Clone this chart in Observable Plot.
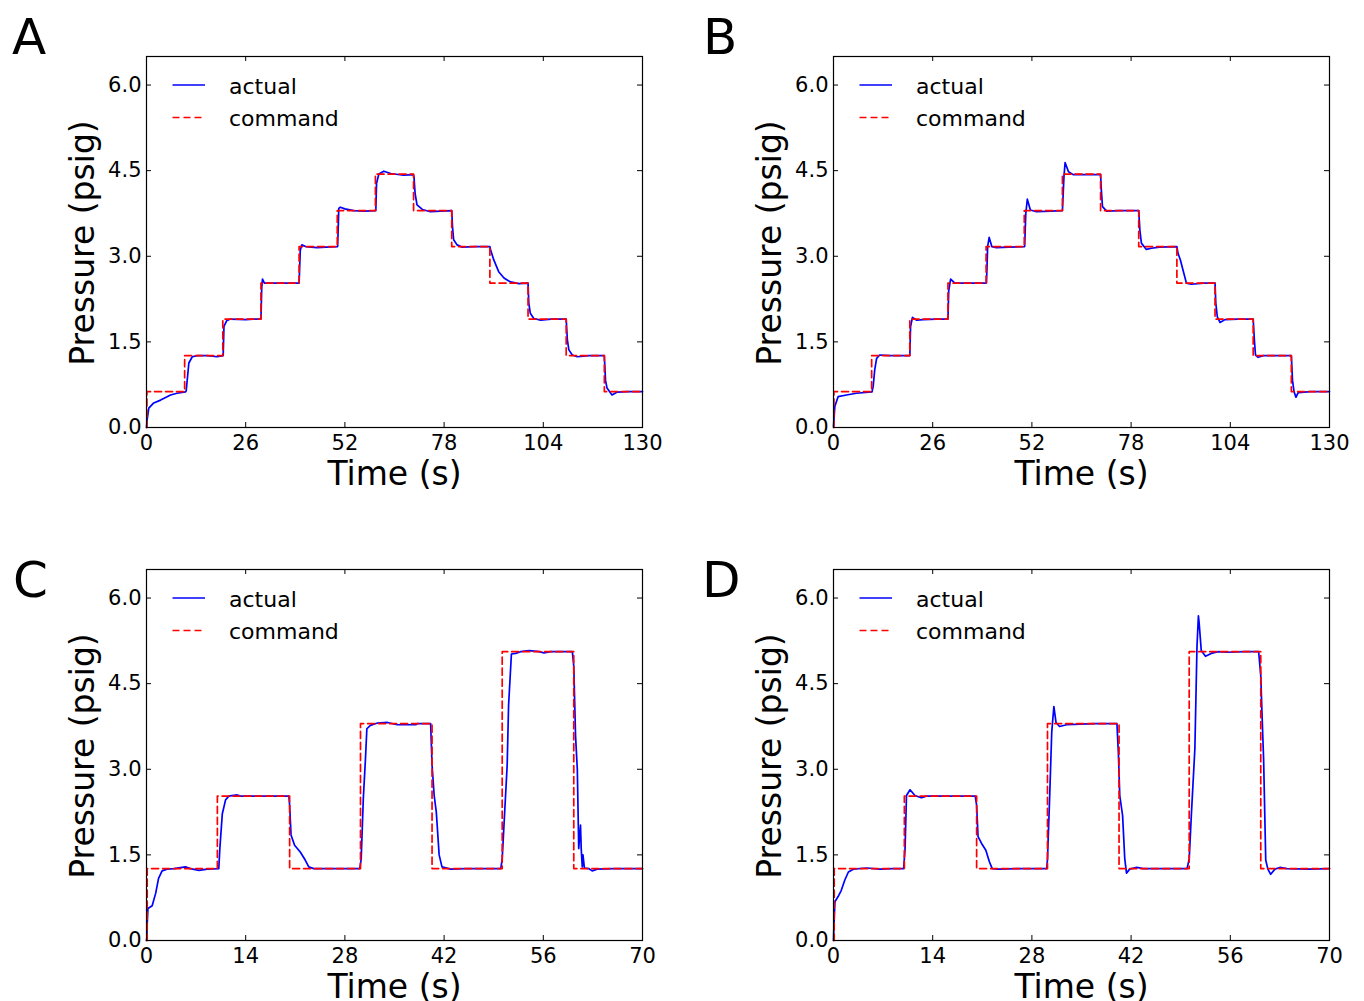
<!DOCTYPE html>
<html>
<head>
<meta charset="utf-8">
<script src="https://cdn.jsdelivr.net/npm/d3@7"></script>
<script src="https://cdn.jsdelivr.net/npm/@observablehq/plot@0.6"></script>
<style>
  html, body { margin: 0; padding: 0; background: #fff; }
  #fig { position: relative; width: 1364px; height: 1001px; overflow: hidden; background: #fff; font-family: "DejaVu Sans", sans-serif; }
  .panel { position: absolute; width: 682px; height: 500px; }
  .panel svg { display: block; max-width: none !important; width: 682px !important; height: 500px !important; }
  #overlay { position: absolute; left: 0; top: 0; pointer-events: none; }
</style>
</head>
<body>
<div id="fig"></div>
<script>
// ---------- tick values ----------
const yTicks = [0, 1.5, 3.0, 4.5, 6.0];
const xTicksAB = [0, 26, 52, 78, 104, 130];
const xTicksCD = [0, 14, 28, 42, 56, 70];

// ---------- command signals ----------
const cmdAB_t = [0, 0.1, 10, 20, 30, 40, 50, 60, 70, 80, 90, 100, 110, 120, 130];
const cmdAB_v = [0, 0.63, 1.26, 1.90, 2.53, 3.17, 3.80, 4.44, 3.80, 3.17, 2.53, 1.90, 1.26, 0.63, 0.63];
const cmdCD_t = [0, 0.1, 10.0, 20.2, 30.2, 40.3, 50.2, 60.3, 70];
const cmdCD_v = [0, 1.26, 2.53, 1.26, 3.80, 1.26, 5.06, 1.26, 1.26];

// ---------- panel A actual ----------
const actA_t = [0, 0.15, 0.6, 1.9, 3.7, 6.3, 8.0, 10.2, 10.4, 11.1, 12.0, 13.3, 16, 18.5, 20.1,
  20.3, 21.0, 22.0, 26, 28, 30.0, 30.2, 30.4, 30.9, 35, 40.0, 40.3, 40.7, 41.7, 44.7, 47, 50.1,
  50.4, 50.8, 52, 54.3, 57, 60.1, 60.3, 60.9, 62.2, 64, 67.4, 69.9, 70.1, 70.4, 70.9, 72.3, 74.4, 77, 80.0,
  80.2, 80.5, 81.4, 82.7, 86, 90.0, 90.2, 91, 92.3, 93.7, 95.4, 97.6, 100.0, 100.2, 100.6, 101.5, 103.3, 106, 110.0,
  110.3, 110.7, 111.6, 112.9, 116, 120.0, 120.3, 120.7, 122, 123.4, 126, 130];
const actA_v = [0, 0.13, 0.34, 0.43, 0.48, 0.57, 0.60, 0.625, 0.64, 1.13, 1.24, 1.26, 1.26, 1.24, 1.26,
  1.77, 1.87, 1.90, 1.89, 1.90, 1.90, 2.45, 2.60, 2.53, 2.53, 2.53, 3.10, 3.20, 3.17, 3.15, 3.16, 3.17,
  3.84, 3.86, 3.83, 3.80, 3.79, 3.80, 4.28, 4.44, 4.49, 4.45, 4.42, 4.43, 4.40, 4.10, 3.90, 3.82, 3.78, 3.79, 3.80,
  3.52, 3.29, 3.20, 3.16, 3.17, 3.17, 3.11, 2.94, 2.73, 2.62, 2.55, 2.52, 2.53, 2.18, 2.00, 1.91, 1.88, 1.90, 1.90,
  1.54, 1.36, 1.27, 1.24, 1.26, 1.26, 0.83, 0.69, 0.57, 0.62, 0.63, 0.63];

// ---------- panel B actual ----------
const actB_t = [0, 0.35, 1.2, 3.4, 6, 10.1, 10.4, 10.8, 11.3, 12.1, 15, 20.0,
  20.2, 20.7, 21.8, 23.5, 27, 30.0, 30.2, 30.7, 31.8, 35, 40.1, 40.4, 40.8, 41.5, 42.7, 46, 50.1,
  50.4, 50.8, 51.6, 53.2, 57, 60.0, 60.4, 60.7, 61.6, 62.8, 66, 70.0, 70.2, 70.5, 71.6, 75, 80.0,
  80.3, 80.7, 82.0, 83.3, 85.5, 90.0, 90.3, 90.9, 91.6, 92.5, 93.8, 97, 100.0, 100.2, 100.6, 101.3, 102.6, 106, 110.0,
  110.3, 110.6, 111.3, 112.6, 116, 120.0, 120.3, 120.7, 121.2, 121.8, 125, 130];
const actB_v = [0.02, 0.37, 0.54, 0.57, 0.60, 0.625, 0.72, 1.01, 1.21, 1.27, 1.26, 1.26,
  1.77, 1.93, 1.88, 1.89, 1.90, 1.90, 2.40, 2.60, 2.53, 2.53, 2.53, 3.17, 3.33, 3.17, 3.15, 3.16, 3.17,
  3.75, 4.00, 3.81, 3.78, 3.79, 3.80, 4.39, 4.64, 4.48, 4.43, 4.43, 4.43, 4.16, 3.87, 3.79, 3.80, 3.80,
  3.46, 3.23, 3.12, 3.14, 3.16, 3.17, 3.05, 2.94, 2.76, 2.53, 2.51, 2.53, 2.53, 2.18, 1.94, 1.84, 1.89, 1.90, 1.90,
  1.54, 1.27, 1.23, 1.26, 1.26, 1.26, 0.83, 0.63, 0.53, 0.61, 0.63, 0.63];

// ---------- panel C actual ----------
const actC_t = [0, 0.05, 0.1, 0.2, 0.8, 1.3, 1.7, 2.2, 2.9, 3.9, 5.5, 6.2, 7.4, 8.6, 10.2,
  10.35, 10.7, 11.15, 11.6, 12.8, 13.3, 16, 20.1, 20.2, 20.4, 20.9, 21.7, 22.4, 22.9, 23.6, 27, 30.1,
  30.3, 30.6, 30.9, 31.1, 31.6, 32.6, 34.0, 35.4, 38.0, 38.2, 40.1, 40.3, 40.6, 40.9, 41.3, 41.7, 42.9, 45, 50.0,
  50.2, 50.4, 50.9, 51.1, 51.5, 52.1, 52.8, 54.0, 55.4, 56.1, 57.0, 60.1, 60.3, 60.55, 60.8, 61.0, 61.25, 61.35, 61.5, 61.6, 61.8,
  62.4, 62.9, 63.6, 66, 70];
const actC_v = [0, 0.05, 0.30, 0.56, 0.61, 0.83, 1.09, 1.22, 1.25, 1.26, 1.29, 1.26, 1.23, 1.25, 1.26,
  1.61, 2.22, 2.46, 2.53, 2.55, 2.53, 2.53, 2.53, 2.37, 1.85, 1.67, 1.55, 1.41, 1.29, 1.26, 1.26, 1.26,
  1.43, 2.49, 3.18, 3.71, 3.77, 3.81, 3.82, 3.78, 3.78, 3.80, 3.80, 3.07, 2.54, 2.25, 1.50, 1.29, 1.25, 1.26, 1.26,
  1.43, 1.90, 3.07, 4.12, 5.02, 5.03, 5.06, 5.08, 5.06, 5.04, 5.06, 5.06, 4.81, 3.59, 3.00, 1.61, 2.02, 1.61, 1.29, 1.50, 1.27,
  1.26, 1.22, 1.25, 1.26, 1.26];

// ---------- panel D actual ----------
const actD_t = [0, 0.05, 0.2, 0.65, 1.1, 1.6, 2.1, 2.8, 4.7, 6.5, 8.4, 9.9,
  10.1, 10.3, 10.8, 11.5, 12.4, 13.1, 16, 20.0, 20.2, 20.4, 20.9, 21.5, 22.0, 22.4, 23.2, 26, 30.1,
  30.2, 30.5, 30.8, 31.1, 31.4, 31.9, 32.9, 34.8, 37, 40.0, 40.2, 40.4, 40.8, 41.1, 41.35, 41.8, 42.8, 43.7, 49.9,
  50.2, 50.5, 51.0, 51.3, 51.5, 51.6, 51.9, 52.5, 53.3, 54.3, 55.5, 58, 60.0, 60.3, 60.5, 60.7, 61.0, 61.3, 61.7,
  62.3, 63.0, 64.0, 67, 70];
const actD_v = [0, 0.22, 0.68, 0.77, 0.88, 1.06, 1.20, 1.25, 1.27, 1.25, 1.26, 1.26,
  1.61, 2.54, 2.64, 2.54, 2.50, 2.53, 2.53, 2.53, 2.37, 1.82, 1.70, 1.58, 1.38, 1.26, 1.25, 1.26, 1.26,
  1.43, 2.49, 3.65, 4.10, 3.82, 3.75, 3.78, 3.79, 3.80, 3.80, 3.30, 2.54, 2.19, 1.44, 1.18, 1.25, 1.28, 1.26, 1.26,
  1.43, 2.19, 3.36, 5.16, 5.69, 5.57, 5.08, 4.98, 5.03, 5.06, 5.05, 5.06, 5.06, 4.64, 3.88, 3.18, 1.41, 1.25, 1.16,
  1.25, 1.28, 1.26, 1.25, 1.26];

// ---------- labels ----------
const panelLetters = ["A", "B", "C", "D"];
const legendLabels = ["actual", "command"];
const xLabel = "Time (s)";
const yLabel = "Pressure (psig)";

const W = 682, H = 500, mL = 146, mR = 40, mT = 56, mB = 73;
const fw = W - mL - mR, fh = H - mT - mB;
const BLUE = "#0000ff", RED = "#ff0000", DASH = "7,4";
const FONT = "DejaVu Sans";

function makePanel(actT, actV, cmdT, cmdV, xMax, xTicks) {
  const act = actT.map((t, i) => ({t, v: actV[i]}));
  const cmd = cmdT.map((t, i) => ({t, v: cmdV[i]}));
  return Plot.plot({
    width: W, height: H,
    marginLeft: mL, marginRight: mR, marginTop: mT, marginBottom: mB,
    x: {domain: [0, xMax]},
    y: {domain: [0, 6.5]},
    style: {fontFamily: FONT, fontSize: "21px", color: "black", background: "white", overflow: "visible"},
    marks: [
      Plot.line(act, {x: "t", y: "v", stroke: BLUE, strokeWidth: 1.7}),
      Plot.line(cmd, {x: "t", y: "v", stroke: RED, strokeWidth: 1.7, strokeDasharray: DASH, curve: "step-after"}),
      Plot.frame({stroke: "black", strokeWidth: 1.2}),
      Plot.tickY(yTicks, {y: d => d, insetRight: fw - 5, stroke: "black"}),
      Plot.tickY(yTicks, {y: d => d, insetLeft: fw - 5, stroke: "black"}),
      Plot.tickX(xTicks, {x: d => d, insetTop: fh - 5, stroke: "black"}),
      Plot.tickX(xTicks, {x: d => d, insetBottom: fh - 5, stroke: "black"}),
      Plot.axisY(yTicks, {tickSize: 0, tickPadding: 5, tickFormat: d => d.toFixed(1), fontSize: 21, label: null}),
      Plot.axisX(xTicks, {tickSize: 0, tickPadding: 7.5, tickFormat: d => String(d), fontSize: 21, label: null}),
      Plot.text([yLabel], {frameAnchor: "left", rotate: -90, dx: -63.5, dy: 1, fontSize: 33, lineAnchor: "middle", textAnchor: "middle", fill: "black"}),
      Plot.text([xLabel], {frameAnchor: "bottom", dx: 0, dy: 47, fontSize: 33, lineAnchor: "middle", textAnchor: "middle", fill: "black"})
    ]
  });
}

const fig = document.getElementById("fig");
const panels = [
  {ox: 0,   oy: 0,   chart: makePanel(actA_t, actA_v, cmdAB_t, cmdAB_v, 130, xTicksAB)},
  {ox: 687, oy: 0,   chart: makePanel(actB_t, actB_v, cmdAB_t, cmdAB_v, 130, xTicksAB)},
  {ox: 0,   oy: 513, chart: makePanel(actC_t, actC_v, cmdCD_t, cmdCD_v, 70, xTicksCD)},
  {ox: 687, oy: 513, chart: makePanel(actD_t, actD_v, cmdCD_t, cmdCD_v, 70, xTicksCD)}
];
panels.forEach(p => {
  const d = document.createElement("div");
  d.className = "panel";
  d.style.left = p.ox + "px";
  d.style.top = p.oy + "px";
  d.appendChild(p.chart);
  fig.appendChild(d);
});

// overlay: panel letters and legends
const ov = d3.select(fig).append("svg").attr("id", "overlay")
  .attr("width", 1364).attr("height", 1001).style("font-family", FONT);
const letterPos = [[12, 54], [703, 54], [13, 597], [702, 597]];
panels.forEach((p, i) => {
  ov.append("text").attr("x", letterPos[i][0]).attr("y", letterPos[i][1])
    .attr("font-size", 50).attr("fill", "black").text(panelLetters[i]);
  const FL = p.ox + mL, FT = p.oy + mT;
  const g = ov.append("g");
  g.append("line").attr("x1", FL + 26.5).attr("x2", FL + 59).attr("y1", FT + 29).attr("y2", FT + 29)
    .attr("stroke", BLUE).attr("stroke-width", 1.7);
  g.append("line").attr("x1", FL + 26.5).attr("x2", FL + 59).attr("y1", FT + 61.5).attr("y2", FT + 61.5)
    .attr("stroke", RED).attr("stroke-width", 1.7).attr("stroke-dasharray", DASH);
  g.append("text").attr("x", FL + 83).attr("y", FT + 37.5).attr("font-size", 22).attr("fill", "black").text(legendLabels[0]);
  g.append("text").attr("x", FL + 83).attr("y", FT + 70.2).attr("font-size", 22).attr("fill", "black").text(legendLabels[1]);
});
</script>
</body>
</html>
